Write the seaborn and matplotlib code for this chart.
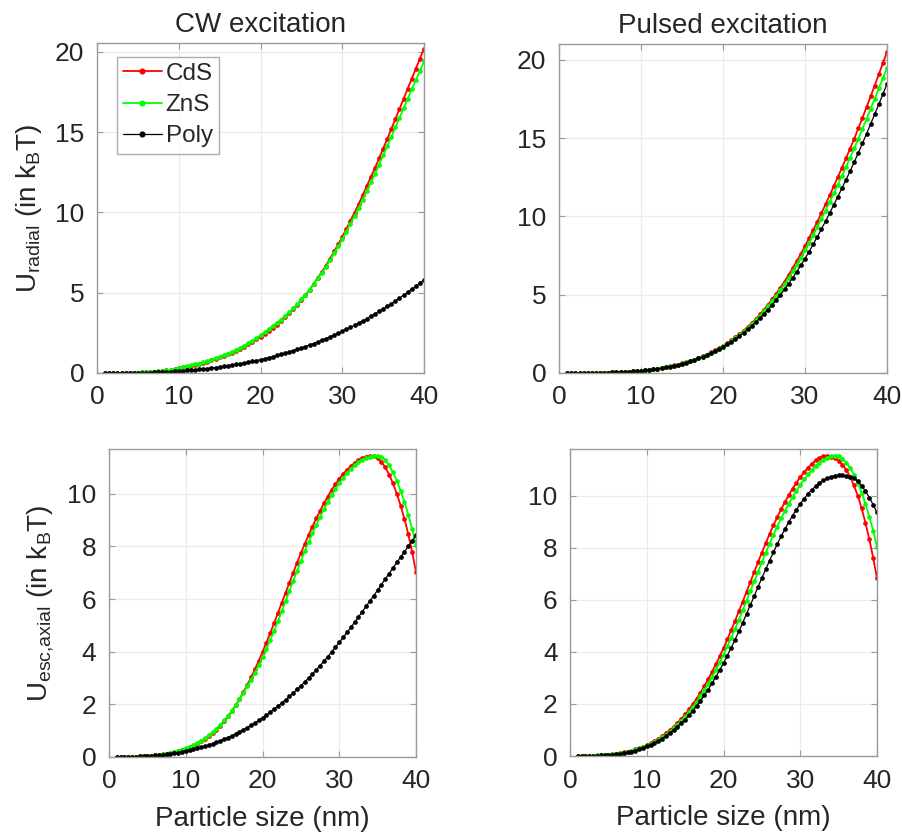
import numpy as np
import pandas as pd
import matplotlib
matplotlib.use("Agg")
import matplotlib.pyplot as plt
import seaborn as sns

sizes = [1.0, 1.5, 2.0, 2.5, 3.0, 3.5, 4.0, 4.5, 5.0, 5.5, 6.0, 6.5, 7.0, 7.5, 8.0, 8.5, 9.0, 9.5, 10.0,
         10.5, 11.0, 11.5, 12.0, 12.5, 13.0, 13.5, 14.0, 14.5, 15.0, 15.5, 16.0, 16.5, 17.0, 17.5, 18.0,
         18.5, 19.0, 19.5, 20.0, 20.5, 21.0, 21.5, 22.0, 22.5, 23.0, 23.5, 24.0, 24.5, 25.0, 25.5, 26.0,
         26.5, 27.0, 27.5, 28.0, 28.5, 29.0, 29.5, 30.0, 30.5, 31.0, 31.5, 32.0, 32.5, 33.0, 33.5, 34.0,
         34.5, 35.0, 35.5, 36.0, 36.5, 37.0, 37.5, 38.0, 38.5, 39.0, 39.5, 40.0]
materials = ["CdS", "ZnS", "Poly"]
colors = {"CdS": "#ff0000", "ZnS": "#00ff00", "Poly": "#000000"}

cw_radial_cds = [0.00,0.00,0.00,0.00,0.01,0.01,0.02,0.02,0.03,
                 0.04,0.05,0.06,0.08,0.10,0.13,0.16,0.20,0.25,0.30,
                 0.35,0.40,0.45,0.51,0.57,0.64,0.71,0.79,0.88,0.97,
                 1.06,1.16,1.27,1.39,1.51,1.64,1.78,1.93,2.09,2.25,
                 2.43,2.63,2.82,3.02,3.24,3.48,3.72,3.98,4.26,4.56,
                 4.87,5.19,5.55,5.93,6.30,6.69,7.12,7.57,8.01,8.47,
                 8.97,9.49,9.99,10.51,11.07,11.64,12.20,12.77,13.36,13.97,
                 14.57,15.19,15.81,16.44,17.07,17.71,18.33,18.95,19.58,20.20]
cw_radial_zns = [0.00,0.00,0.00,0.00,0.01,0.01,0.02,0.02,0.03,
                 0.04,0.05,0.06,0.08,0.10,0.14,0.17,0.21,0.26,0.31,
                 0.36,0.42,0.47,0.53,0.59,0.67,0.74,0.82,0.92,1.01,
                 1.10,1.21,1.32,1.45,1.57,1.71,1.85,2.01,2.17,2.34,
                 2.53,2.73,2.93,3.12,3.33,3.55,3.78,4.03,4.29,4.58,
                 4.88,5.19,5.53,5.89,6.24,6.61,7.03,7.46,7.88,8.32,
                 8.80,9.29,9.77,10.26,10.80,11.34,11.87,12.41,12.97,13.55,
                 14.12,14.71,15.29,15.89,16.48,17.08,17.66,18.23,18.82,19.40]
cw_radial_poly = [0.00,0.00,0.00,0.00,0.00,0.01,0.01,0.01,0.02,
                  0.02,0.03,0.03,0.04,0.05,0.06,0.07,0.09,0.10,0.12,
                  0.14,0.16,0.18,0.20,0.22,0.25,0.28,0.31,0.34,0.37,
                  0.41,0.45,0.49,0.53,0.57,0.62,0.67,0.72,0.77,0.83,
                  0.89,0.95,1.02,1.09,1.16,1.23,1.31,1.39,1.47,1.56,
                  1.65,1.74,1.83,1.93,2.03,2.14,2.25,2.36,2.47,2.59,
                  2.71,2.84,2.97,3.11,3.24,3.38,3.53,3.68,3.83,3.99,
                  4.15,4.32,4.49,4.66,4.84,5.02,5.21,5.40,5.60,5.80]

pl_radial_cds = [0.00,0.00,0.00,0.00,0.00,0.00,0.01,0.01,0.02,
                 0.02,0.03,0.04,0.05,0.06,0.07,0.08,0.10,0.12,0.15,
                 0.18,0.21,0.24,0.28,0.32,0.37,0.42,0.48,0.54,0.61,
                 0.69,0.77,0.86,0.96,1.07,1.18,1.31,1.44,1.59,1.74,
                 1.91,2.09,2.28,2.48,2.70,2.94,3.19,3.45,3.74,4.05,
                 4.37,4.70,5.07,5.45,5.84,6.25,6.70,7.15,7.62,8.10,
                 8.61,9.13,9.66,10.20,10.76,11.33,11.91,12.50,13.10,13.70,
                 14.32,14.95,15.61,16.28,16.96,17.65,18.35,19.06,19.78,20.50]
pl_radial_zns = [0.00,0.00,0.00,0.00,0.00,0.00,0.01,0.01,0.02,
                 0.02,0.03,0.04,0.05,0.06,0.07,0.08,0.10,0.12,0.15,
                 0.18,0.21,0.24,0.28,0.32,0.37,0.42,0.47,0.53,0.60,
                 0.68,0.76,0.85,0.95,1.05,1.16,1.29,1.42,1.56,1.71,
                 1.87,2.05,2.23,2.43,2.64,2.87,3.11,3.37,3.64,3.94,
                 4.25,4.57,4.92,5.29,5.66,6.06,6.49,6.92,7.37,7.83,
                 8.32,8.81,9.32,9.83,10.37,10.91,11.46,12.02,12.59,13.15,
                 13.75,14.34,14.95,15.58,16.21,16.86,17.51,18.16,18.83,19.45]
pl_radial_poly = [0.00,0.00,0.00,0.00,0.00,0.00,0.01,0.01,0.02,
                  0.02,0.03,0.04,0.05,0.06,0.07,0.08,0.10,0.12,0.14,
                  0.17,0.20,0.23,0.27,0.31,0.36,0.41,0.46,0.52,0.59,
                  0.66,0.74,0.83,0.93,1.03,1.14,1.26,1.39,1.53,1.67,
                  1.83,2.00,2.17,2.36,2.56,2.78,3.01,3.24,3.50,3.77,
                  4.05,4.34,4.66,4.99,5.33,5.69,6.08,6.47,6.88,7.30,
                  7.75,8.21,8.69,9.18,9.68,10.20,10.72,11.25,11.79,12.33,
                  12.89,13.46,14.05,14.65,15.26,15.89,16.52,17.15,17.80,18.45]

cw_axial_cds = [0.00,0.00,0.00,0.01,0.01,0.01,0.02,0.03,0.04,
                0.05,0.06,0.08,0.10,0.12,0.15,0.18,0.22,0.26,0.31,
                0.37,0.43,0.51,0.59,0.69,0.79,0.91,1.04,1.19,1.35,
                1.54,1.74,1.96,2.20,2.46,2.73,3.02,3.33,3.65,3.99,
                4.34,4.70,5.08,5.46,5.85,6.23,6.62,7.00,7.38,7.74,
                8.09,8.43,8.75,9.06,9.35,9.63,9.89,10.14,10.36,10.57,
                10.75,10.91,11.05,11.17,11.27,11.35,11.41,11.44,11.42,11.34,
                11.20,11.00,10.73,10.39,10.00,9.55,9.04,8.46,7.78,7.03]
cw_axial_zns = [0.00,0.00,0.00,0.01,0.01,0.01,0.02,0.03,0.04,
                0.05,0.07,0.08,0.10,0.13,0.16,0.19,0.23,0.28,0.33,
                0.39,0.45,0.53,0.62,0.72,0.83,0.95,1.08,1.23,1.39,
                1.57,1.76,1.97,2.20,2.44,2.68,2.93,3.20,3.48,3.78,
                4.10,4.44,4.79,5.15,5.53,5.92,6.31,6.69,7.07,7.45,
                7.81,8.16,8.50,8.82,9.12,9.41,9.68,9.94,10.18,10.40,
                10.60,10.78,10.94,11.08,11.20,11.29,11.36,11.41,11.44,11.45,
                11.40,11.28,11.08,10.81,10.49,10.11,9.68,9.20,8.66,8.07]
cw_axial_poly = [0.00,0.00,0.00,0.00,0.01,0.01,0.02,0.03,0.04,
                 0.05,0.06,0.07,0.09,0.11,0.13,0.15,0.17,0.20,0.23,
                 0.26,0.29,0.33,0.37,0.41,0.46,0.51,0.56,0.62,0.68,
                 0.74,0.81,0.88,0.96,1.04,1.12,1.21,1.30,1.39,1.49,
                 1.59,1.70,1.81,1.93,2.05,2.17,2.30,2.43,2.57,2.71,
                 2.85,3.00,3.15,3.31,3.47,3.64,3.81,3.99,4.17,4.35,
                 4.54,4.73,4.92,5.12,5.32,5.52,5.72,5.93,6.13,6.34,
                 6.55,6.76,6.97,7.18,7.39,7.60,7.80,8.00,8.21,8.42]

pl_axial_cds = [0.00,0.00,0.00,0.01,0.01,0.02,0.03,0.04,0.05,
                0.07,0.09,0.11,0.14,0.17,0.21,0.25,0.30,0.36,0.42,
                0.49,0.57,0.66,0.76,0.87,0.99,1.12,1.27,1.43,1.60,
                1.79,1.99,2.21,2.44,2.69,2.95,3.23,3.52,3.83,4.15,
                4.48,4.83,5.19,5.56,5.93,6.31,6.69,7.07,7.45,7.82,
                8.18,8.53,8.86,9.18,9.48,9.76,10.03,10.28,10.51,10.72,
                10.91,11.08,11.23,11.36,11.46,11.52,11.54,11.51,11.45,11.35,
                11.20,11.00,10.73,10.40,10.00,9.52,8.96,8.33,7.62,6.83]
pl_axial_zns = [0.00,0.00,0.00,0.01,0.01,0.02,0.03,0.04,0.05,
                0.07,0.09,0.11,0.13,0.16,0.20,0.24,0.29,0.34,0.40,
                0.47,0.54,0.63,0.72,0.82,0.94,1.06,1.20,1.35,1.51,
                1.69,1.88,2.08,2.30,2.53,2.78,3.04,3.31,3.60,3.90,
                4.22,4.55,4.89,5.24,5.60,5.97,6.34,6.71,7.08,7.45,
                7.81,8.16,8.50,8.82,9.13,9.42,9.70,9.96,10.20,10.42,
                10.63,10.82,10.99,11.14,11.27,11.38,11.46,11.52,11.55,11.52,
                11.43,11.28,11.07,10.81,10.50,10.12,9.69,9.20,8.66,8.05]
pl_axial_poly = [0.00,0.00,0.00,0.00,0.01,0.01,0.02,0.03,0.04,
                 0.05,0.07,0.09,0.11,0.14,0.17,0.21,0.26,0.31,0.37,
                 0.43,0.50,0.58,0.67,0.77,0.88,1.00,1.12,1.26,1.40,
                 1.56,1.73,1.92,2.12,2.33,2.55,2.79,3.04,3.30,3.57,
                 3.86,4.16,4.47,4.79,5.12,5.46,5.80,6.15,6.50,6.84,
                 7.18,7.51,7.83,8.14,8.44,8.72,8.99,9.24,9.47,9.69,
                 9.89,10.07,10.23,10.37,10.49,10.59,10.67,10.73,10.77,10.79,
                 10.79,10.77,10.73,10.68,10.56,10.39,10.18,9.93,9.66,9.36]

titles = ["CW excitation", "Pulsed excitation"]
xlabel = "Particle size (nm)"
ylabels = [r"U$_{radial}$ (in k$_B$T)", r"U$_{esc{,}axial}$ (in k$_B$T)"]

panels = {
    (0, 0): [cw_radial_cds, cw_radial_zns, cw_radial_poly],
    (0, 1): [pl_radial_cds, pl_radial_zns, pl_radial_poly],
    (1, 0): [cw_axial_cds, cw_axial_zns, cw_axial_poly],
    (1, 1): [pl_axial_cds, pl_axial_zns, pl_axial_poly],
}
for key, series in panels.items():
    for s in series:
        assert len(s) == len(sizes), (key, len(s))

sns.set_theme(style="white")
plt.rcParams["font.family"] = ["Liberation Sans", "DejaVu Sans"]
plt.rcParams["mathtext.default"] = "regular"

W, H = 902, 839
fig = plt.figure(figsize=(W / 100, H / 100), dpi=100)
boxes = {
    (0, 0): (97, 424, 43, 373),
    (0, 1): (559, 887, 44, 373),
    (1, 0): (109, 416, 449, 757),
    (1, 1): (570, 877, 449, 756),
}
ylims = {(0, 0): (0, 20.55), (0, 1): (0, 21.0), (1, 0): (0, 11.7), (1, 1): (0, 11.8)}
yticks = {(0, 0): [0, 5, 10, 15, 20], (0, 1): [0, 5, 10, 15, 20],
          (1, 0): [0, 2, 4, 6, 8, 10], (1, 1): [0, 2, 4, 6, 8, 10]}

spine_c = "#9a9a9a"
text_c = "#262626"
for (r, c), series in panels.items():
    l, rr, t, b = boxes[(r, c)]
    ax = fig.add_axes([l / W, 1 - b / H, (rr - l) / W, (b - t) / H])
    for name, vals in zip(materials, series):
        df = pd.DataFrame({"size": sizes, "U": vals})
        lw = 0.9 if name == "Poly" else 1.3
        sns.lineplot(data=df, x="size", y="U", ax=ax, color=colors[name], marker="o",
                     markersize=3.4, markeredgewidth=0, linewidth=lw, label=name,
                     legend=False)
    ax.set_xlim(0, 40)
    ax.set_ylim(*ylims[(r, c)])
    ax.set_xticks([0, 10, 20, 30, 40])
    ax.set_yticks(yticks[(r, c)])
    ax.grid(True, color="#ebebeb", linewidth=0.9)
    ax.set_axisbelow(True)
    for s in ax.spines.values():
        s.set_color(spine_c)
        s.set_linewidth(1.0)
        s.set_visible(True)
    ax.tick_params(direction="in", length=4, width=0.8, colors=spine_c,
                   labelcolor=text_c, labelsize=19, top=True, right=True,
                   bottom=True, left=True, pad=9)
    ax.set_xlabel(xlabel if r == 1 else "", fontsize=20, color=text_c, labelpad=9)
    ax.set_ylabel(ylabels[r] if c == 0 else "", fontsize=20, color=text_c, labelpad=8)
    if r == 0:
        ax.set_title(titles[c], fontsize=20, color=text_c, pad=8)
    if (r, c) == (0, 0):
        leg = ax.legend(loc="upper left", bbox_to_anchor=(0.061, 0.958), borderaxespad=0,
                        fontsize=17.5, frameon=True, fancybox=False,
                        handlelength=1.6, handletextpad=0.15, borderpad=0.25,
                        labelspacing=0.38, markerscale=1.3)
        leg.get_frame().set_edgecolor(spine_c)
        leg.get_frame().set_linewidth(1.0)

fig.savefig("out.png", dpi=100)
